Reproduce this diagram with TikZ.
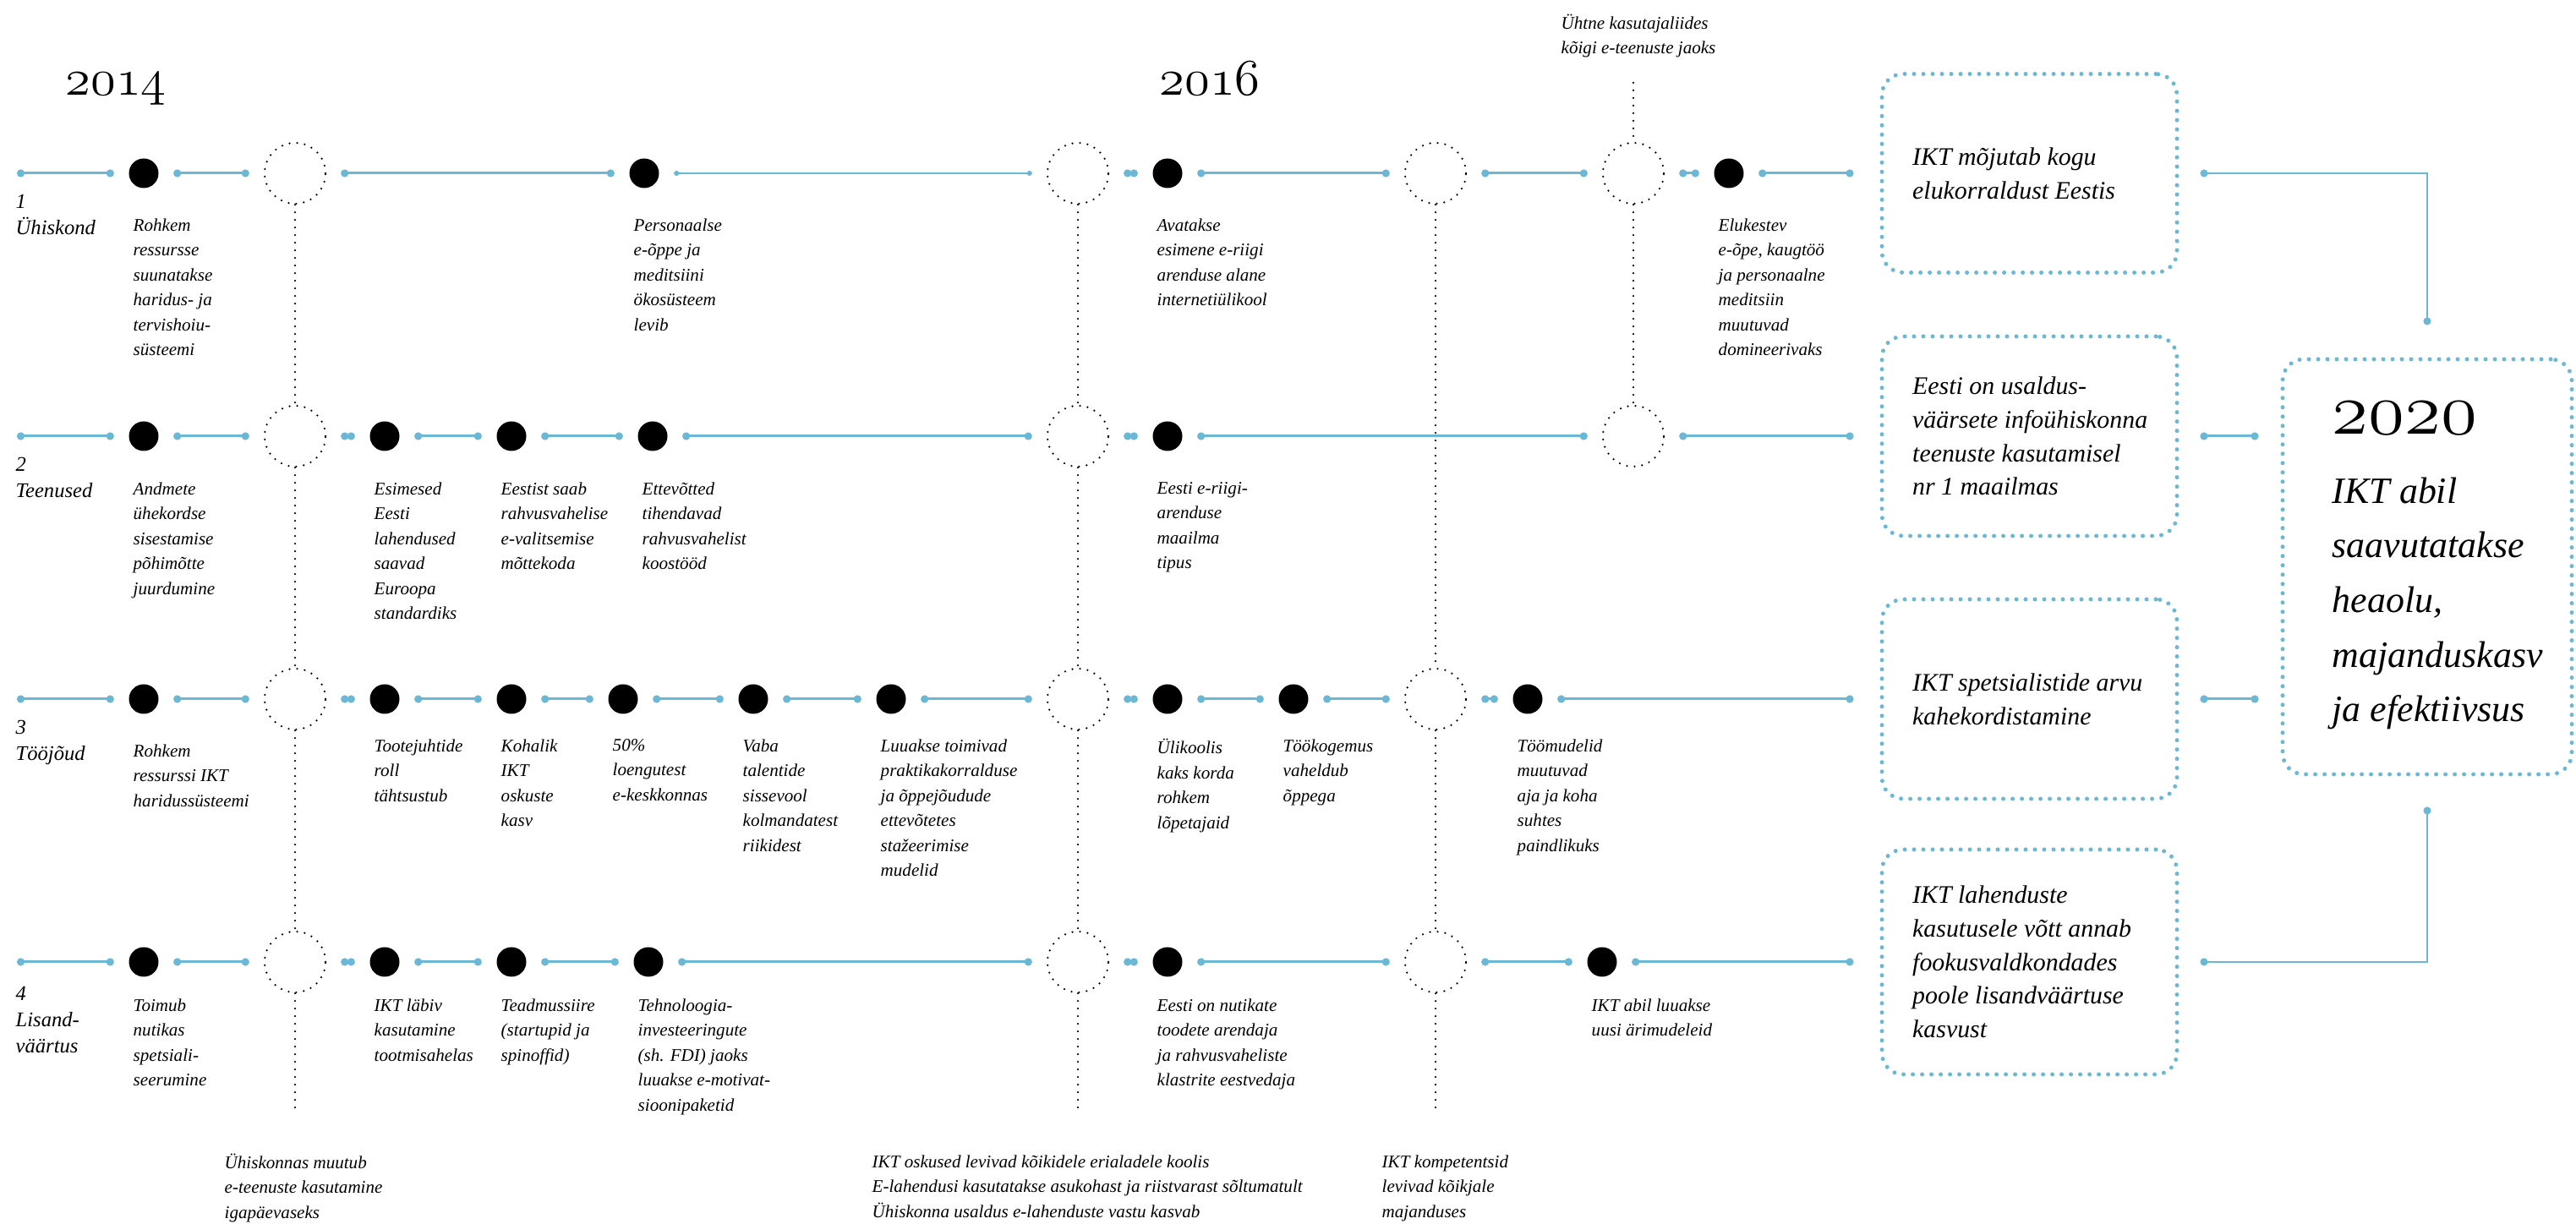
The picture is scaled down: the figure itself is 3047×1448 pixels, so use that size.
\documentclass[tikz,border=0pt]{standalone}
\usepackage{fontspec}
\setmainfont{Liberation Serif}
\usepackage{tikz}
\usetikzlibrary{arrows.meta,positioning}

\definecolor{iktblue}{RGB}{107,183,214}
\newcommand{\yearnum}[1]{{\usefont{OML}{cmm}{m}{it}#1}}
\tikzset{
  dot/.style={circle,fill=black,inner sep=0pt,minimum size=3.5mm},
  ring/.style={circle,draw,line width=0.25mm,dash pattern=on 0pt off 0.9mm,line cap=round,inner sep=0pt,minimum size=7.2mm},
  vline/.style={line width=0.25mm,dash pattern=on 0pt off 0.9mm,line cap=round},
  seg/.style={draw=iktblue,line width=0.3mm,>={Circle[length=0.9mm]},<->,shorten <=1.7mm,shorten >=1.7mm},
  thinseg/.style={seg,line width=0.15mm,>={Circle[length=0.6mm]},<->},
  tobox/.style={seg,shorten >=3.1mm},
  aimbox/.style={draw=iktblue,line width=0.5mm,dash pattern=on 0pt off 1.1mm,line cap=round,rounded corners=2.5mm,inner sep=0pt,minimum width=34.9mm},
  itm/.style={anchor=north west,align=left,inner sep=0pt,font=\fontsize{6}{8.4}\selectfont\itshape},
  rowlbl/.style={anchor=north west,align=left,inner sep=0pt,font=\fontsize{7}{8.8}\selectfont\itshape},
  boxtxt/.style={anchor=west,align=left,inner sep=0pt,font=\fontsize{8.5}{11.3}\selectfont\itshape},
  year/.style={anchor=base west,inner sep=0pt,font=\fontsize{17}{20}\selectfont},
}

\begin{document}
\begin{tikzpicture}[x=0.1mm,y=0.1mm]
\useasboundingbox (0,0) rectangle (3047,1448);

\node[year] at (77,1335) (y14) {\yearnum{2014}};
\node[year] at (1371,1335) (y16) {\yearnum{2016}};

% 1 Ühiskond
\coordinate (s1) at (20,1243);
\node[rowlbl, below right=2.5mm and -0.2mm of s1] (t1) {1\\Ühiskond};
\node[dot] at (170,1243) (p1a) {};
\node[ring] at (349,1243) (m1a) {};
\node[dot] at (762,1243) (p1b) {};
\node[ring] at (1275,1243) (m1b) {};
\node[dot] at (1381,1243) (p1c) {};
\node[ring] at (1698,1243) (m1c) {};
\node[ring] at (1932,1243) (m1d) {};
\node[dot] at (2045,1243) (p1d) {};
\node[itm, below right=3.45mm and -1.3mm of p1a.south] {Rohkem\\ressursse\\suunatakse\\haridus- ja\\tervishoiu-\\süsteemi};
\node[itm, below right=3.45mm and -1.3mm of p1b.south] {Personaalse\\e-õppe ja\\meditsiini\\ökosüsteem\\levib};
\node[itm, below right=3.45mm and -1.3mm of p1c.south] {Avatakse\\esimene e-riigi\\arenduse alane\\internetiülikool};
\node[itm, below right=3.45mm and -1.3mm of p1d.south] {Elukestev\\e-õpe, kaugtöö\\ja personaalne\\meditsiin\\muutuvad\\domineerivaks};

% 2 Teenused
\coordinate (s2) at (20,932);
\node[rowlbl, below right=2.5mm and -0.2mm of s2] (t2) {2\\Teenused};
\node[dot] at (170,932) (p2a) {};
\node[ring] at (349,932) (m2a) {};
\node[dot] at (455,932) (p2b) {};
\node[dot] at (605,932) (p2c) {};
\node[dot] at (772,932) (p2d) {};
\node[ring] at (1275,932) (m2b) {};
\node[dot] at (1381,932) (p2e) {};
\node[ring] at (1932,932) (m2d) {};
\node[itm, below right=3.55mm and -1.3mm of p2a.south] {Andmete\\ühekordse\\sisestamise\\põhimõtte\\juurdumine};
\node[itm, below right=3.55mm and -1.3mm of p2b.south] {Esimesed\\Eesti\\lahendused\\saavad\\Euroopa\\standardiks};
\node[itm, below right=3.55mm and -1.3mm of p2c.south] {Eestist saab\\rahvusvahelise\\e-valitsemise\\mõttekoda};
\node[itm, below right=3.55mm and -1.3mm of p2d.south] {Ettevõtted\\tihendavad\\rahvusvahelist\\koostööd};
\node[itm, below right=3.55mm and -1.3mm of p2e.south] {Eesti e-riigi-\\arenduse\\maailma\\tipus};

% 3 Tööjõud
\coordinate (s3) at (20,621);
\node[rowlbl, below right=2.5mm and -0.2mm of s3] (t3) {3\\Tööjõud};
\node[dot] at (170,621) (p3a) {};
\node[ring] at (349,621) (m3a) {};
\node[dot] at (455,621) (p3b) {};
\node[dot] at (605,621) (p3c) {};
\node[dot] at (737,621) (p3d) {};
\node[dot] at (891,621) (p3e) {};
\node[dot] at (1054,621) (p3f) {};
\node[ring] at (1275,621) (m3b) {};
\node[dot] at (1381,621) (p3g) {};
\node[dot] at (1530,621) (p3h) {};
\node[ring] at (1698,621) (m3c) {};
\node[dot] at (1807,621) (p3i) {};
\node[itm, below right=3.45mm and -1.3mm of p3a.south] {Rohkem\\ressurssi IKT\\haridussüsteemi};
\node[itm, below right=2.85mm and -1.3mm of p3b.south] {Tootejuhtide\\roll\\tähtsustub};
\node[itm, below right=2.85mm and -1.3mm of p3c.south] {Kohalik\\IKT\\oskuste\\kasv};
\node[itm, below right=2.85mm and -1.3mm of p3d.south] {50\%\\loengutest\\e-keskkonnas};
\node[itm, below right=2.85mm and -1.3mm of p3e.south] {Vaba\\talentide\\sissevool\\kolmandatest\\riikidest};
\node[itm, below right=2.85mm and -1.3mm of p3f.south] {Luuakse toimivad\\praktikakorralduse\\ja õppejõudude\\ettevõtetes\\stažeerimise\\mudelid};
\node[itm, below right=2.85mm and -1.3mm of p3g.south] {Ülikoolis\\kaks korda\\rohkem\\lõpetajaid};
\node[itm, below right=2.85mm and -1.3mm of p3h.south] {Töökogemus\\vaheldub\\õppega};
\node[itm, below right=2.85mm and -1.3mm of p3i.south] {Töömudelid\\muutuvad\\aja ja koha\\suhtes\\paindlikuks};

% 4 Lisandväärtus
\coordinate (s4) at (20,310);
\node[rowlbl, below right=2.9mm and -0.2mm of s4] (t4) {4\\Lisand-\\väärtus};
\node[dot] at (170,310) (p4a) {};
\node[ring] at (349,310) (m4a) {};
\node[dot] at (455,310) (p4b) {};
\node[dot] at (605,310) (p4c) {};
\node[dot] at (767,310) (p4d) {};
\node[ring] at (1275,310) (m4b) {};
\node[dot] at (1381,310) (p4e) {};
\node[ring] at (1698,310) (m4c) {};
\node[dot] at (1895,310) (p4f) {};
\node[itm, below right=2.45mm and -1.3mm of p4a.south] {Toimub\\nutikas\\spetsiali-\\seerumine};
\node[itm, below right=2.45mm and -1.3mm of p4b.south] {IKT läbiv\\kasutamine\\tootmisahelas};
\node[itm, below right=2.45mm and -1.3mm of p4c.south] {Teadmussiire\\(startupid ja\\spinoffid)};
\node[itm, below right=2.45mm and -1.3mm of p4d.south] {Tehnoloogia-\\investeeringute\\(sh. FDI) jaoks\\luuakse e-motivat-\\sioonipaketid};
\node[itm, below right=2.45mm and -1.3mm of p4e.south] {Eesti on nutikate\\toodete arendaja\\ja rahvusvaheliste\\klastrite eestvedaja};
\node[itm, below right=2.45mm and -1.3mm of p4f.south] {IKT abil luuakse\\uusi ärimudeleid};

% milestones
\coordinate (z1) at (349,130);
\coordinate (z2) at (1275,130);
\coordinate (z3) at (1698,130);
\coordinate (z4) at (1932,1350);
\node[itm] at (1846,1432) (n4) {Ühtne kasutajaliides\\kõigi e-teenuste jaoks};
\node[itm] at (265,84) (n1) {Ühiskonnas muutub\\e-teenuste kasutamine\\igapäevaseks};
\node[itm] at (1031,82) (n2) {IKT oskused levivad kõikidele erialadele koolis\\E-lahendusi kasutatakse asukohast ja riistvarast sõltumatult\\Ühiskonna usaldus e-lahenduste vastu kasvab};
\node[itm] at (1634,82) (n3) {IKT kompetentsid\\levivad kõikjale\\majanduses};
\draw[vline] (m1a) -- (m2a) -- (m3a) -- (m4a) -- (z1);
\draw[vline] (m1b) -- (m2b) -- (m3b) -- (m4b) -- (z2);
\draw[vline] (m1c) -- (m3c) -- (m4c) -- (z3);
\draw[vline] (z4) -- (m1d) -- (m2d);

% goals
\node[aimbox, minimum height=23.5mm] at (2400.5,1243) (b1) {};
\node[aimbox, minimum height=23.6mm] at (2400.5,932) (b2) {};
\node[aimbox, minimum height=23.6mm] at (2400.5,621) (b3) {};
\node[aimbox, minimum height=26.6mm] at (2400.5,310) (b4) {};
\node[boxtxt, right=3.8mm of b1.west] {IKT mõjutab kogu\\elukorraldust Eestis};
\node[boxtxt, right=3.8mm of b2.west] {Eesti on usaldus-\\väärsete infoühiskonna\\teenuste kasutamisel\\nr 1 maailmas};
\node[boxtxt, right=3.8mm of b3.west] {IKT spetsialistide arvu\\kahekordistamine};
\node[boxtxt, right=3.8mm of b4.west] {IKT lahenduste\\kasutusele võtt annab\\fookusvaldkondades\\poole lisandväärtuse\\kasvust};

\node[aimbox, minimum width=34.2mm, minimum height=49.1mm] at (2871,777.5) (goal) {};
\node[anchor=base west, inner sep=0pt, font=\fontsize{25}{30}\selectfont] at (2758,934) (g20) {\yearnum{2020}};
\node[anchor=north west, align=left, inner sep=0pt, font=\fontsize{12.5}{18.4}\selectfont\itshape, below right=5mm and 0mm of g20.base west] (gtx) {IKT abil\\saavutatakse\\heaolu,\\majanduskasv\\ja efektiivsus};

% timelines
\draw[seg, shorten <=0pt] (s1) -- (p1a);
\draw[seg] (p1a) -- (m1a);
\draw[seg] (m1a) -- (p1b);
\draw[thinseg] (p1b) -- (m1b);
\draw[seg] (m1b) -- (p1c);
\draw[seg] (p1c) -- (m1c);
\draw[seg] (m1c) -- (m1d);
\draw[seg] (m1d) -- (p1d);
\draw[tobox] (p1d) -- (b1);

\draw[seg, shorten <=0pt] (s2) -- (p2a);
\draw[seg] (p2a) -- (m2a);
\draw[seg] (m2a) -- (p2b);
\draw[seg] (p2b) -- (p2c);
\draw[seg] (p2c) -- (p2d);
\draw[seg] (p2d) -- (m2b);
\draw[seg] (m2b) -- (p2e);
\draw[seg] (p2e) -- (m2d);
\draw[tobox] (m2d) -- (b2);

\draw[seg, shorten <=0pt] (s3) -- (p3a);
\draw[seg] (p3a) -- (m3a);
\draw[seg] (m3a) -- (p3b);
\draw[seg] (p3b) -- (p3c);
\draw[seg] (p3c) -- (p3d);
\draw[seg] (p3d) -- (p3e);
\draw[seg] (p3e) -- (p3f);
\draw[seg] (p3f) -- (m3b);
\draw[seg] (m3b) -- (p3g);
\draw[seg] (p3g) -- (p3h);
\draw[seg] (p3h) -- (m3c);
\draw[seg] (m3c) -- (p3i);
\draw[tobox] (p3i) -- (b3);

\draw[seg, shorten <=0pt] (s4) -- (p4a);
\draw[seg] (p4a) -- (m4a);
\draw[seg] (m4a) -- (p4b);
\draw[seg] (p4b) -- (p4c);
\draw[seg] (p4c) -- (p4d);
\draw[seg] (p4d) -- (m4b);
\draw[seg] (m4b) -- (p4e);
\draw[seg] (p4e) -- (m4c);
\draw[seg] (m4c) -- (p4f);
\draw[tobox] (p4f) -- (b4);

\draw[seg, line width=0.2mm, shorten <=2.5mm, shorten >=3.8mm] (b1) -| (goal);
\draw[seg, shorten <=2.5mm, shorten >=2.6mm] (b2.east) -- (b2.east -| goal.west);
\draw[seg, shorten <=2.5mm, shorten >=2.6mm] (b3.east) -- (b3.east -| goal.west);
\draw[seg, line width=0.2mm, shorten <=2.5mm, shorten >=3.6mm] (b4) -| (goal);
\end{tikzpicture}
\end{document}
